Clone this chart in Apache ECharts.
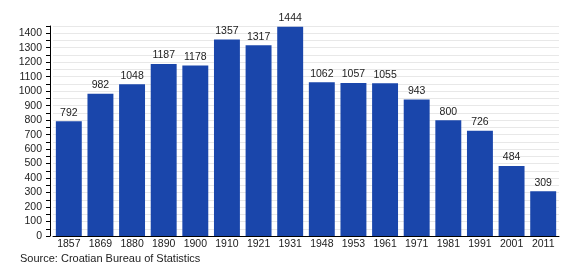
<!DOCTYPE html>
<html><head><meta charset="utf-8">
<script src="https://cdn.jsdelivr.net/npm/echarts@6/dist/echarts.min.js"></script>
<style>html,body{margin:0;padding:0;background:#fff}#c{width:580px;height:280px}</style>
</head><body><div id="c"></div>
<script>
var years = ['1857','1869','1880','1890','1900','1910','1921','1931','1948','1953','1961','1971','1981','1991','2001','2011'];
var population = [792,982,1048,1187,1178,1357,1317,1444,1062,1057,1055,943,800,726,484,309];
var sourceText = 'Source: Croatian Bureau of Statistics';
var chart = echarts.init(document.getElementById('c'));
var font = 'Liberation Sans, Arial, sans-serif';
chart.setOption({
  animation: false,
  textStyle: {fontFamily: font},
  grid: {left: 53, right: 21, top: 26, bottom: 44},
  graphic: [{type: 'text', left: 20, top: 253, style: {text: sourceText, fontSize: 11, fill: '#222', fontFamily: font}}],
  xAxis: {
    type: 'category', data: years,
    axisLine: {lineStyle: {color: '#000', width: 1}},
    axisTick: {show: false},
    axisLabel: {color: '#222', fontSize: 10.5, margin: 3, interval: 0, fontFamily: font}
  },
  yAxis: {
    type: 'value', min: 0, max: 1450, interval: 50, offset: 3,
    axisLine: {show: true, lineStyle: {color: '#000'}},
    axisTick: {show: true, length: 4, lineStyle: {color: '#000'}},
    splitLine: {lineStyle: {color: '#e8e8e8'}},
    axisLabel: {color: '#222', fontSize: 10.5, margin: 8, fontFamily: font,
      formatter: function(v){ return v % 100 === 0 ? String(v) : ''; }}
  },
  series: [{
    type: 'bar', data: population, barCategoryGap: '18%',
    itemStyle: {color: '#1a46ab'},
    label: {show: true, position: 'top', distance: 3, color: '#222', fontSize: 10.5, fontFamily: font}
  }]
});
</script></body></html>
